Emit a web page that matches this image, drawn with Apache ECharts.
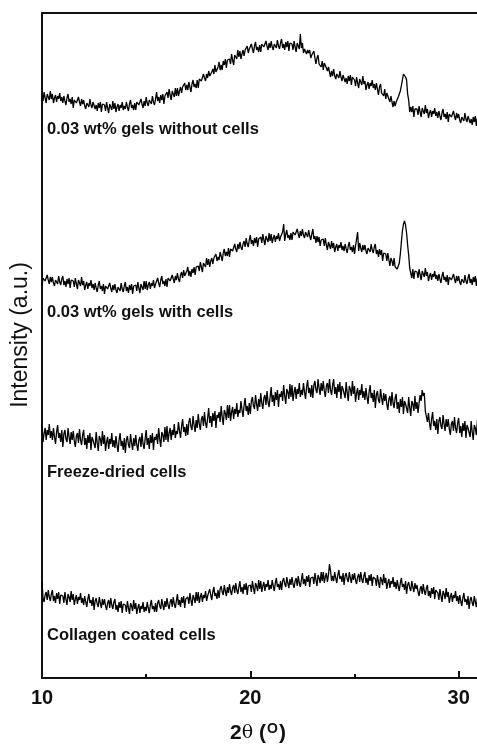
<!DOCTYPE html>
<html>
<head>
<meta charset="utf-8">
<script src="https://cdn.jsdelivr.net/npm/echarts@6/dist/echarts.min.js"></script>
<style>
  html, body { margin: 0; padding: 0; background: #fff; overflow: hidden; }
  /* the figure is cropped on the right: draw wider and let the window cut it */
  #main { width: 700px; height: 746px; }
</style>
</head>
<body>
<div id="main"></div>
<script>
// 2θ scan: 10.00 .. 30.95 deg, 0.05 deg step (420 points per pattern)
const scanStart = 10;
const scanStep = 0.05;

// intensities (offset stacked, arbitrary units), one row per half degree
const gelsWithoutCells = [
  583, 577, 586, 580, 575, 584, 582, 578, 587, 579,
  584, 575, 580, 583, 576, 582, 579, 585, 577, 581,
  575, 582, 577, 573, 580, 584, 576, 579, 574, 581,
  570, 578, 580, 575, 573, 581, 576, 572, 579, 574,
  578, 572, 569, 575, 577, 571, 579, 573, 570, 576,
  578, 569, 573, 567, 575, 570, 576, 566, 574, 572,
  573, 567, 576, 570, 565, 574, 572, 568, 577, 569,
  575, 566, 571, 574, 567, 573, 570, 576, 568, 572,
  569, 576, 571, 567, 574, 578, 570, 573, 568, 575,
  568, 576, 578, 573, 571, 579, 574, 570, 577, 572,
  581, 575, 572, 578, 580, 574, 582, 576, 573, 579,
  586, 577, 581, 575, 583, 578, 584, 574, 582, 580,
  586, 580, 589, 583, 578, 587, 585, 581, 590, 582,
  590, 582, 587, 591, 585, 591, 589, 595, 588, 593,
  588, 596, 591, 586, 594, 598, 591, 594, 590, 598,
  590, 599, 601, 597, 595, 604, 600, 597, 604, 600,
  607, 602, 600, 606, 609, 604, 613, 606, 604, 611,
  616, 608, 613, 608, 617, 613, 619, 610, 618, 616,
  619, 614, 624, 618, 613, 623, 622, 619, 628, 621,
  627, 619, 624, 628, 622, 628, 626, 632, 625, 629,
  627, 634, 629, 625, 632, 636, 628, 631, 626, 633,
  626, 634, 636, 631, 629, 637, 632, 628, 635, 630,
  637, 631, 628, 634, 636, 630, 638, 632, 629, 635,
  639, 630, 634, 628, 636, 631, 637, 627, 635, 633,
  634, 628, 637, 631, 626, 635, 633, 629, 644, 630,
  635, 625, 629, 631, 624, 628, 625, 628, 620, 623,
  621, 627, 620, 614, 620, 623, 614, 616, 611, 617,
  608, 615, 616, 610, 607, 611, 606, 601, 607, 602,
  609, 602, 599, 604, 606, 600, 607, 601, 597, 603,
  605, 596, 600, 594, 602, 597, 603, 593, 601, 599,
  598, 592, 601, 595, 590, 599, 597, 593, 602, 594,
  597, 588, 593, 596, 589, 595, 592, 598, 590, 594,
  588, 595, 589, 583, 591, 594, 585, 587, 582, 589,
  579, 585, 586, 579, 576, 582, 576, 571, 577, 572,
  576, 575, 581, 581, 587, 589, 598, 604, 606, 601,
  598, 584, 578, 566, 571, 566, 572, 561, 569, 567,
  569, 563, 572, 566, 561, 570, 568, 564, 573, 565,
  569, 560, 565, 568, 561, 567, 564, 570, 562, 566,
  560, 567, 562, 558, 565, 569, 561, 564, 559, 566,
  556, 564, 566, 561, 559, 567, 562, 558, 565, 560,
  564, 558, 555, 561, 563, 557, 565, 559, 556, 562,
  564, 555, 559, 553, 561, 556, 562, 552, 560, 558
];

const gelsWithCells = [
  392, 400, 402, 397, 395, 403, 398, 394, 401, 396,
  401, 395, 392, 398, 400, 394, 402, 396, 393, 399,
  402, 393, 397, 391, 399, 394, 400, 390, 398, 396,
  397, 391, 400, 394, 389, 398, 396, 392, 401, 393,
  397, 388, 393, 396, 389, 395, 392, 398, 390, 394,
  388, 395, 390, 386, 393, 397, 389, 392, 387, 394,
  384, 392, 394, 389, 387, 395, 390, 386, 393, 388,
  394, 388, 385, 391, 393, 387, 395, 389, 386, 392,
  396, 387, 391, 385, 393, 388, 394, 384, 392, 390,
  393, 387, 396, 390, 385, 394, 392, 388, 397, 389,
  397, 388, 393, 396, 389, 395, 392, 398, 390, 394,
  393, 400, 395, 391, 398, 402, 394, 397, 392, 399,
  391, 400, 402, 397, 395, 403, 399, 395, 402, 398,
  405, 399, 396, 403, 406, 400, 408, 402, 400, 407,
  411, 402, 407, 401, 409, 405, 411, 403, 411, 410,
  412, 407, 416, 411, 406, 415, 414, 411, 420, 413,
  419, 411, 417, 420, 414, 420, 418, 424, 417, 421,
  418, 426, 422, 417, 425, 429, 422, 426, 422, 430,
  421, 429, 431, 427, 425, 434, 429, 426, 434, 429,
  436, 431, 428, 434, 437, 431, 440, 434, 431, 438,
  443, 434, 438, 432, 440, 435, 441, 431, 439, 437,
  441, 435, 444, 438, 433, 442, 440, 436, 445, 437,
  444, 435, 440, 443, 436, 442, 439, 445, 437, 441,
  439, 446, 454, 437, 444, 448, 440, 443, 438, 445,
  438, 446, 448, 443, 441, 449, 444, 440, 447, 442,
  449, 443, 440, 446, 448, 441, 448, 442, 438, 444,
  449, 439, 442, 435, 442, 436, 441, 432, 438, 436,
  439, 432, 440, 433, 428, 436, 434, 429, 437, 430,
  435, 426, 431, 434, 427, 433, 430, 436, 428, 432,
  427, 434, 429, 425, 432, 436, 428, 431, 426, 433,
  424, 432, 434, 446, 427, 435, 430, 426, 433, 428,
  433, 427, 424, 430, 432, 426, 434, 428, 425, 431,
  434, 424, 428, 421, 429, 423, 428, 417, 425, 423,
  424, 417, 425, 418, 412, 420, 417, 412, 420, 411,
  412, 409, 408, 415, 424, 436, 447, 454, 457, 453,
  445, 433, 423, 410, 408, 400, 409, 399, 407, 405,
  406, 400, 409, 403, 398, 407, 405, 401, 410, 402,
  406, 397, 402, 405, 398, 404, 401, 407, 399, 403,
  397, 404, 399, 395, 402, 406, 398, 401, 396, 403,
  393, 401, 403, 398, 396, 404, 399, 395, 402, 397,
  402, 396, 393, 399, 401, 395, 403, 397, 394, 400,
  404, 395, 399, 393, 401, 396, 402, 392, 400, 398
];

const freezeDried = [
  252, 236, 245, 250, 238, 248, 243, 254, 240, 247,
  238, 250, 241, 234, 246, 253, 240, 245, 236, 248,
  231, 244, 248, 239, 236, 250, 241, 234, 246, 238,
  247, 237, 231, 242, 245, 235, 249, 238, 233, 243,
  248, 233, 240, 229, 243, 235, 245, 228, 241, 238,
  240, 230, 246, 235, 227, 242, 239, 232, 247, 234,
  243, 227, 236, 241, 229, 239, 234, 245, 231, 238,
  230, 242, 233, 226, 238, 245, 232, 237, 228, 240,
  225, 238, 242, 233, 230, 244, 235, 228, 240, 232,
  243, 233, 227, 238, 241, 231, 245, 234, 229, 239,
  248, 233, 240, 229, 243, 235, 245, 228, 241, 238,
  244, 234, 250, 239, 231, 246, 243, 236, 251, 238,
  252, 236, 245, 250, 238, 248, 243, 254, 240, 247,
  244, 256, 247, 240, 252, 259, 246, 251, 242, 254,
  243, 256, 260, 251, 248, 262, 253, 246, 258, 250,
  264, 254, 248, 259, 262, 252, 266, 255, 250, 260,
  270, 255, 262, 251, 265, 257, 267, 250, 263, 260,
  266, 256, 272, 261, 253, 268, 265, 258, 273, 260,
  273, 257, 266, 271, 259, 269, 264, 275, 261, 268,
  265, 277, 268, 261, 273, 280, 267, 272, 263, 275,
  264, 277, 281, 272, 269, 283, 274, 267, 279, 271,
  285, 275, 269, 280, 283, 273, 287, 276, 271, 281,
  291, 276, 283, 272, 286, 278, 288, 271, 284, 281,
  287, 277, 293, 282, 274, 289, 286, 279, 294, 281,
  293, 277, 286, 291, 279, 289, 284, 295, 281, 288,
  283, 295, 286, 279, 291, 298, 285, 290, 281, 293,
  280, 293, 297, 288, 285, 299, 290, 283, 295, 287,
  297, 287, 281, 292, 295, 285, 299, 288, 283, 293,
  299, 284, 291, 280, 294, 286, 296, 279, 292, 289,
  290, 280, 296, 285, 277, 292, 289, 282, 297, 284,
  292, 276, 285, 290, 278, 288, 283, 294, 280, 287,
  278, 290, 281, 274, 286, 293, 280, 285, 276, 288,
  270, 283, 287, 278, 275, 289, 280, 273, 285, 277,
  284, 274, 268, 279, 282, 272, 286, 275, 270, 280,
  284, 269, 276, 265, 279, 271, 281, 264, 277, 274,
  275, 265, 281, 270, 262, 277, 274, 267, 282, 269,
  276, 265, 275, 283, 277, 288, 282, 285, 267, 267,
  256, 265, 255, 248, 259, 266, 252, 257, 248, 259,
  244, 257, 261, 252, 249, 263, 254, 247, 259, 251,
  259, 249, 243, 254, 257, 247, 261, 250, 245, 255,
  260, 245, 252, 241, 255, 247, 257, 240, 253, 250,
  251, 241, 257, 246, 238, 253, 250, 243, 258, 245
];

const collagenCoated = [
  96, 80, 76, 83, 86, 78, 88, 81, 77, 84,
  88, 77, 82, 75, 85, 79, 86, 74, 83, 81,
  82, 75, 86, 79, 73, 84, 81, 76, 87, 78,
  84, 73, 79, 83, 74, 81, 78, 85, 75, 80,
  73, 82, 76, 71, 79, 84, 75, 78, 72, 81,
  68, 77, 80, 74, 71, 81, 75, 70, 79, 73,
  79, 72, 68, 75, 78, 70, 80, 73, 69, 76,
  79, 68, 73, 66, 76, 70, 77, 65, 74, 72,
  73, 66, 77, 70, 64, 75, 72, 67, 78, 69,
  75, 64, 70, 74, 65, 72, 69, 76, 66, 71,
  67, 76, 70, 65, 73, 78, 69, 72, 66, 75,
  66, 75, 78, 72, 69, 79, 73, 68, 77, 71,
  80, 73, 69, 76, 79, 71, 81, 74, 70, 77,
  84, 73, 78, 71, 81, 75, 82, 70, 79, 77,
  81, 74, 85, 78, 72, 83, 80, 75, 86, 77,
  86, 75, 81, 85, 76, 83, 80, 87, 77, 82,
  80, 89, 83, 78, 86, 91, 82, 85, 79, 88,
  80, 89, 92, 86, 83, 93, 87, 82, 91, 85,
  94, 87, 83, 90, 93, 85, 95, 88, 84, 91,
  97, 86, 91, 84, 94, 88, 95, 83, 92, 90,
  93, 86, 97, 90, 84, 95, 92, 87, 98, 89,
  97, 86, 92, 96, 87, 94, 91, 98, 88, 93,
  89, 98, 92, 87, 95, 100, 91, 94, 88, 97,
  88, 97, 100, 94, 91, 101, 95, 90, 99, 93,
  101, 94, 90, 97, 100, 92, 102, 95, 91, 98,
  105, 94, 99, 92, 102, 96, 103, 91, 100, 98,
  101, 94, 105, 98, 92, 103, 100, 95, 106, 97,
  106, 95, 101, 105, 96, 103, 114, 107, 97, 102,
  97, 106, 100, 95, 103, 108, 99, 102, 96, 105,
  93, 102, 105, 99, 96, 106, 100, 95, 104, 98,
  105, 98, 94, 101, 104, 96, 106, 99, 95, 102,
  106, 95, 100, 93, 103, 97, 104, 92, 101, 99,
  99, 92, 103, 96, 90, 101, 98, 93, 104, 95,
  100, 89, 95, 99, 90, 97, 94, 101, 91, 96,
  89, 98, 92, 87, 95, 100, 91, 94, 88, 97,
  84, 93, 96, 90, 87, 97, 91, 86, 95, 89,
  93, 86, 82, 89, 92, 84, 94, 87, 83, 90,
  93, 82, 87, 80, 90, 84, 91, 79, 88, 86,
  85, 78, 89, 82, 76, 87, 84, 79, 90, 81,
  86, 75, 81, 85, 76, 83, 80, 87, 77, 82,
  74, 83, 77, 72, 80, 85, 76, 79, 73, 82,
  69, 78, 81, 75, 72, 82, 76, 71, 80, 74
];

const seriesNames = [
  '0.03 wt% gels without cells',
  '0.03 wt% gels with cells',
  'Freeze-dried cells',
  'Collagen coated cells'
];
const xTicks = [10, 20, 30];

const toPairs = (vals) => vals.map((v, i) => [+(scanStart + i * scanStep).toFixed(2), v]);

const chart = echarts.init(document.getElementById('main'));

const labelFont = {
  fontFamily: 'Liberation Sans, Arial, sans-serif',
  fontWeight: 'bold',
  fontSize: 16.5,
  fill: '#111'
};

chart.setOption({
  animation: false,
  backgroundColor: '#fff',
  grid: { left: 42, top: 13, bottom: 68, width: 625 },
  xAxis: [
    {
      type: 'value',
      min: 10,
      max: 40,
      interval: 10,
      axisLine: { lineStyle: { color: '#111', width: 2 } },
      axisTick: { inside: true, length: 7, lineStyle: { color: '#111', width: 2 } },
      minorTick: { show: true, splitNumber: 2, length: 4, lineStyle: { color: '#111', width: 2 } },
      splitLine: { show: false },
      axisLabel: {
        margin: 10,
        color: '#111',
        fontFamily: 'Liberation Sans, Arial, sans-serif',
        fontWeight: 'bold',
        fontSize: 20,
        formatter: (v) => xTicks.includes(v) ? String(v) : ''
      }
    },
    {
      type: 'value',
      position: 'top',
      min: 10,
      max: 40,
      axisLine: { lineStyle: { color: '#111', width: 2 } },
      axisTick: { show: false },
      axisLabel: { show: false },
      splitLine: { show: false }
    }
  ],
  yAxis: {
    type: 'value',
    min: 0,
    max: 665,
    axisLine: { show: true, lineStyle: { color: '#111', width: 2 } },
    axisTick: { show: false },
    axisLabel: { show: false },
    splitLine: { show: false }
  },
  series: [gelsWithoutCells, gelsWithCells, freezeDried, collagenCoated].map((vals, k) => ({
    name: seriesNames[k],
    type: 'line',
    data: toPairs(vals),
    showSymbol: false,
    lineStyle: { color: '#000', width: 1.3 }
  })),
  graphic: [
    { type: 'text', left: 47, top: 121, style: Object.assign({ text: seriesNames[0] }, labelFont) },
    { type: 'text', left: 47, top: 304, style: Object.assign({ text: seriesNames[1] }, labelFont) },
    { type: 'text', left: 47, top: 464, style: Object.assign({ text: seriesNames[2] }, labelFont) },
    { type: 'text', left: 47, top: 627, style: Object.assign({ text: seriesNames[3] }, labelFont) },
    {
      type: 'text',
      x: 21, y: 335,
      rotation: Math.PI / 2,
      style: {
        text: 'Intensity (a.u.)',
        fontFamily: 'Liberation Sans, Arial, sans-serif',
        fontSize: 23,
        fill: '#111',
        align: 'center',
        verticalAlign: 'middle'
      }
    },
    {
      type: 'text',
      x: 258, y: 733,
      style: {
        text: '{b|2}{t|θ}{b| (}{s|O}{b|)}',
        align: 'center',
        verticalAlign: 'middle',
        rich: {
          b: { fontFamily: 'Liberation Sans, Arial, sans-serif', fontWeight: 'bold', fontSize: 21, fill: '#111' },
          t: { fontFamily: 'DejaVu Serif, serif', fontSize: 19, fill: '#111' },
          s: { fontFamily: 'Liberation Sans, Arial, sans-serif', fontWeight: 'bold', fontSize: 14, fill: '#111', verticalAlign: 'top', padding: [0, 1, 8, 1] }
        }
      }
    }
  ]
});
</script>
</body>
</html>
